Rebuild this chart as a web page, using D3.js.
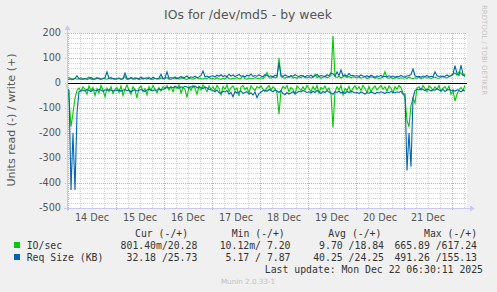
<!DOCTYPE html>
<html>
<head>
<meta charset="utf-8">
<title>IOs for /dev/md5 - by week</title>
<script src="https://cdn.jsdelivr.net/npm/d3@7"></script>
<style>
	body { margin:0; background:#f0f0f0; }
	svg { display:block; }
	.mono { font-family:"DejaVu Sans Mono", monospace; font-size:9.8px; fill:#333; white-space:pre; }
	.sans { font-family:"DejaVu Sans", sans-serif; }
</style>
</head>
<body>
<div id="chart"></div>
<script>
'use strict';

// one sample per hour, first sample at the left edge of the plot
var start = new Date(2025, 11, 13, 23, 30);
var end = new Date(2025, 11, 22, 7, 30);

var dayLabels = ["14 Dec", "15 Dec", "16 Dec", "17 Dec", "18 Dec", "19 Dec", "20 Dec", "21 Dec"];
var yTicks = [200, 100, 0, -100, -200, -300, -400, -500];

// IO/sec write (+)
var ioWrite = [20,
	22, 18, 16, 19, 15, 17, 21, 14, 16, 19, 24, 15, 13, 18, 22, 16, 14, 20, 17, 15, 19, 23, 16, 14,
	18, 21, 15, 17, 26, 14, 16, 19, 15, 22, 17, 13, 16, 20, 18, 15, 24, 16, 14, 19, 17, 15, 21, 16,
	17, 22, 15, 14, 19, 16, 21, 15, 18, 24, 16, 14, 20, 17, 15, 19, 22, 16, 18, 15, 20, 17, 23, 16,
	18, 15, 21, 17, 14, 19, 16, 24, 18, 15, 20, 17, 22, 16, 19, 28, 17, 15, 20, 18, 16, 22, 19, 17,
	21, 18, 24, 42, 22, 19, 25, 20, 23, 100, 26, 21, 19, 24, 22, 28, 20, 23, 19, 25, 21, 30, 22, 20,
	24, 20, 22, 35, 21, 26, 19, 23, 28, 21, 24, 30, 188, 25, 22, 27, 20, 24, 29, 22, 26, 21, 25, 23,
	20, 24, 19, 22, 26, 18, 21, 25, 23, 19, 22, 17, 20, 24, 45, 21, 19, 23, 17, 20, 22, 18, 21, 19,
	22, 18, 24, 20, 17, 21, 19, 23, 18, 20, 25, 19, 22, 18, 21, 24, 20, 19, 23, 28, 22, 20, 26, 30,
	35, 40, 32, 45, 38, 30, 36];

// IO/sec read (-)
var ioRead = [8,
	60, 175, 120, 60, 30, 20, 35, 15, 25, 45, 12, 30, 18, 50, 22, 40, 10, 28, 55, 20, 35, 15, 42, 25,
	18, 38, 12, 50, 25, 8, 30, 45, 15, 28, 60, 20, 12, 35, 22, 48, 15, 30, 10, 25, 40, 18, 32, 14,
	20, 10, 28, 15, 35, 12, 22, 8, 40, 18, 25, 58, 15, 30, 10, 22, 45, 14, 28, 8, 20, 35, 12, 25,
	15, 30, 10, 22, 48, 14, 25, 8, 35, 18, 12, 28, 20, 52, 15, 10, 26, 18, 40, 12, 22, 30, 14, 20,
	12, 25, 35, 18, 10, 28, 15, 22, 40, 125, 30, 14, 22, 10, 35, 18, 25, 45, 12, 20, 30, 15, 28, 10,
	22, 35, 14, 28, 10, 40, 18, 25, 12, 30, 20, 45, 178, 35, 15, 28, 10, 48, 22, 30, 14, 38, 20, 12,
	25, 15, 30, 10, 22, 38, 14, 36, 20, 12, 28, 18, 10, 25, 15, 32, 12, 20, 40, 15, 25, 10, 18, 40,
	60, 150, 175, 90, 60, 80, 20, 15, 28, 10, 22, 35, 12, 18, 30, 15, 25, 10, 35, 20, 14, 28, 12, 45,
	30, 72, 45, 25, 18, 30, 10];

// Req Size (KB) write (+)
var sizeWrite = [14,
	15, 16, 14, 18, 29, 17, 15, 16, 19, 14, 17, 22, 16, 15, 18, 20, 16, 17, 21, 45, 18, 16, 19, 17,
	16, 18, 15, 17, 40, 19, 16, 22, 18, 15, 20, 17, 24, 16, 19, 21, 17, 15, 23, 18, 16, 20, 35, 18,
	20, 45, 18, 22, 19, 24, 17, 21, 26, 19, 23, 28, 20, 25, 22, 27, 21, 24, 30, 48, 25, 28, 23, 27,
	29, 24, 31, 27, 33, 26, 30, 25, 35, 28, 32, 26, 30, 34, 27, 29, 24, 31, 28, 36, 26, 30, 27, 32,
	28, 25, 33, 30, 26, 29, 24, 31, 27, 80, 30, 26, 32, 28, 25, 30, 27, 33, 29, 26, 31, 28, 24, 30,
	27, 31, 25, 29, 34, 26, 30, 28, 25, 33, 29, 40, 36, 27, 44, 30, 52, 28, 33, 26, 38, 29, 31, 27,
	30, 26, 32, 28, 25, 29, 24, 31, 27, 23, 28, 26, 30, 25, 27, 24, 29, 26, 28, 23, 27, 25, 30, 26,
	24, 28, 30, 34, 56, 29, 25, 27, 23, 28, 26, 30, 24, 27, 25, 45, 29, 26, 28, 24, 27, 32, 26, 29,
	35, 69, 38, 30, 72, 34, 26];

// Req Size (KB) read (-)
var sizeRead = [22,
	30, 428, 200, 428, 120, 35, 30, 28, 32, 26, 30, 34, 27, 29, 31, 25, 28, 33, 27, 30, 26, 29, 32, 28,
	30, 27, 33, 29, 26, 31, 28, 35, 30, 27, 32, 29, 26, 30, 34, 28, 25, 29, 31, 27, 30, 24, 28, 26,
	22, 18, 20, 16, 19, 14, 17, 21, 15, 18, 13, 16, 20, 14, 17, 12, 19, 15, 18, 22, 16, 20, 25, 28,
	30, 35, 28, 38, 42, 33, 36, 30, 45, 38, 55, 34, 40, 36, 32, 42, 38, 35, 44, 40, 48, 36, 58, 42,
	36, 30, 28, 33, 26, 30, 35, 28, 32, 38, 30, 42, 46, 38, 44, 40, 35, 42, 38, 33, 36, 30, 34, 38,
	35, 40, 33, 38, 30, 36, 42, 34, 38, 31, 36, 40, 45, 35, 38, 33, 40, 36, 42, 34, 38, 32, 36, 40,
	38, 42, 36, 40, 44, 38, 41, 36, 39, 43, 37, 40, 35, 38, 42, 36, 39, 34, 37, 40, 35, 38, 33, 45,
	45, 350, 200, 335, 60, 30, 25, 28, 22, 26, 30, 24, 27, 32, 26, 29, 23, 28, 31, 25, 34, 28, 26, 30,
	28, 33, 27, 30, 35, 29, 32];

var legendHead = ["Cur (-/+)", "Min (-/+)", "Avg (-/+)", "Max (-/+)"];
var ioStats = ["801.40m/20.28", "10.12m/ 7.20", " 9.70 /18.84", "665.89 /617.24"];
var sizeStats = ["32.18 /25.73", " 5.17 / 7.87", "40.25 /24.25", "491.26 /155.13"];
var lastUpdate = "Last update: Mon Dec 22 06:30:11 2025";

var W = 497, H = 292;
var plot = { l:67, r:467, t:33, b:208 };

var svg = d3.select("#chart")
			.append("svg")
			.attr("width", W)
			.attr("height", H);

svg.append("rect").attr("width", W).attr("height", H).attr("fill", "#f0f0f0");

var x = d3.scaleTime().domain([start, end]).range([plot.l, plot.r]);
var y = d3.scaleLinear().domain([-500, 200]).range([plot.b, plot.t]);

var t = function(i) { return d3.timeHour.offset(start, i); };

// canvas
svg.append("rect")
	.attr("x", plot.l).attr("y", plot.t)
	.attr("width", plot.r - plot.l).attr("height", plot.b - plot.t)
	.attr("fill", "#ffffff");

// grid
var grid = svg.append("g").attr("class", "grid");

var minorX = d3.timeHour.every(6).range(start, end).filter(function(d) { return d.getHours() != 0; });
var majorX = d3.timeDay.range(start, end);
var minorY = d3.range(-500, 201, 20).filter(function(v) { return v % 100 != 0; });

grid.selectAll("line.vmin").data(minorX).join("line")
	.attr("x1", function(d) { return Math.round(x(d)) + 0.5; })
	.attr("x2", function(d) { return Math.round(x(d)) + 0.5; })
	.attr("y1", plot.t).attr("y2", plot.b)
	.attr("stroke", "#d4d4d4").attr("stroke-dasharray", "1,1");

grid.selectAll("line.hmin").data(minorY).join("line")
	.attr("x1", plot.l).attr("x2", plot.r)
	.attr("y1", function(d) { return Math.round(y(d)) + 0.5; })
	.attr("y2", function(d) { return Math.round(y(d)) + 0.5; })
	.attr("stroke", "#d4d4d4").attr("stroke-dasharray", "1,1");

grid.selectAll("line.vmaj").data(majorX).join("line")
	.attr("x1", function(d) { return Math.round(x(d)) + 0.5; })
	.attr("x2", function(d) { return Math.round(x(d)) + 0.5; })
	.attr("y1", plot.t).attr("y2", plot.b + 2)
	.attr("stroke", "#f0a0a0").attr("stroke-dasharray", "1,1");

grid.selectAll("line.hmaj").data(yTicks).join("line")
	.attr("x1", plot.l - 2).attr("x2", plot.r)
	.attr("y1", function(d) { return Math.round(y(d)) + 0.5; })
	.attr("y2", function(d) { return Math.round(y(d)) + 0.5; })
	.attr("stroke", "#f0a0a0").attr("stroke-dasharray", "1,1");

// axis labels
svg.append("g").selectAll("text").data(yTicks).join("text")
	.attr("class", "sans")
	.attr("x", plot.l - 6)
	.attr("y", function(d) { return y(d); })
	.attr("dy", "0.35em")
	.attr("text-anchor", "end")
	.attr("font-size", "9.7px")
	.attr("fill", "#555")
	.text(function(d) { return d; });

svg.append("g").selectAll("text").data(majorX.slice(0, dayLabels.length)).join("text")
	.attr("class", "sans")
	.attr("x", function(d) { return x(d3.timeHour.offset(d, 12)); })
	.attr("y", 220.5)
	.attr("text-anchor", "middle")
	.attr("font-size", "9.7px")
	.attr("fill", "#555")
	.text(function(d, i) { return dayLabels[i]; });

// zero rule
svg.append("line")
	.attr("x1", plot.l).attr("x2", plot.r)
	.attr("y1", Math.round(y(0)) + 0.5).attr("y2", Math.round(y(0)) + 0.5)
	.attr("stroke", "#000")
	.attr("stroke-width", 1.2);

// series
var series = [
	{ values:ioRead, sign:-1, color:"#00cc00" },
	{ values:ioWrite, sign:1, color:"#00cc00" },
	{ values:sizeRead, sign:-1, color:"#0066b3" },
	{ values:sizeWrite, sign:1, color:"#0066b3" }
];

series.forEach(function(s) {
	var line = d3.line()
				 .x(function(d, i) { return x(t(i)); })
				 .y(function(d) { return y(s.sign * d); });
	svg.append("path")
		.datum(s.values)
		.attr("fill", "none")
		.attr("stroke", s.color)
		.attr("stroke-width", 1.1)
		.attr("d", line);
});

// axes with arrows
var axisColor = "#c8c8f0";
svg.append("line")
	.attr("x1", plot.l + 0.5).attr("x2", plot.l + 0.5)
	.attr("y1", plot.b + 3).attr("y2", plot.t - 4)
	.attr("stroke", axisColor);
svg.append("path")
	.attr("d", "M" + (plot.l - 2.5) + "," + (plot.t - 3) + "L" + (plot.l + 3.5) + "," + (plot.t - 3) + "L" + (plot.l + 0.5) + "," + (plot.t - 8) + "Z")
	.attr("fill", axisColor);
svg.append("line")
	.attr("x1", plot.l - 3).attr("x2", plot.r + 4)
	.attr("y1", plot.b + 0.5).attr("y2", plot.b + 0.5)
	.attr("stroke", axisColor);
svg.append("path")
	.attr("d", "M" + (plot.r + 3) + "," + (plot.b - 2.5) + "L" + (plot.r + 3) + "," + (plot.b + 3.5) + "L" + (plot.r + 8) + "," + (plot.b + 0.5) + "Z")
	.attr("fill", axisColor);

// title and labels
svg.append("text")
	.attr("class", "sans")
	.attr("x", 248).attr("y", 18.5)
	.attr("text-anchor", "middle")
	.attr("font-size", "12.4px")
	.attr("fill", "#555")
	.text("IOs for /dev/md5 - by week");

svg.append("text")
	.attr("class", "sans")
	.attr("transform", "translate(15,120) rotate(-90)")
	.attr("text-anchor", "middle")
	.attr("font-size", "11.1px")
	.attr("fill", "#555")
	.text("Units read (-) / write (+)");

svg.append("text")
	.attr("class", "sans")
	.attr("transform", "translate(482,5) rotate(90)")
	.attr("font-size", "7px")
	.attr("fill", "#c4c4c4")
	.text("RRDTOOL / TOBI OETIKER");

svg.append("text")
	.attr("class", "sans")
	.attr("x", 248).attr("y", 284)
	.attr("text-anchor", "middle")
	.attr("font-size", "7.2px")
	.attr("fill", "#c0c0c0")
	.text("Munin 2.0.33-1");

// legend
var headX = [135, 231.7, 328.3, 424];
var colEnd = [197.3, 290.5, 384, 477];

var legend = svg.append("g");

legend.selectAll("text.head").data(legendHead).join("text")
	.attr("class", "mono")
	.attr("x", function(d, i) { return headX[i]; })
	.attr("y", 237)
	.text(function(d) { return d; });

var rows = [
	{ name:"IO/sec", color:"#00cc00", stats:ioStats, y:249 },
	{ name:"Req Size (KB)", color:"#0066b3", stats:sizeStats, y:261 }
];

rows.forEach(function(r) {
	legend.append("rect")
		.attr("x", 14).attr("y", r.y - 7)
		.attr("width", 6).attr("height", 6)
		.attr("fill", r.color);
	legend.append("text")
		.attr("class", "mono")
		.attr("x", 26.7).attr("y", r.y)
		.text(r.name);
	legend.selectAll(null).data(r.stats).join("text")
		.attr("class", "mono")
		.attr("x", function(d, i) { return colEnd[i]; })
		.attr("y", r.y)
		.attr("text-anchor", "end")
		.text(function(d) { return d; });
});

legend.append("text")
	.attr("class", "mono")
	.attr("x", 483).attr("y", 273)
	.attr("text-anchor", "end")
	.text(lastUpdate);
</script>
</body>
</html>
